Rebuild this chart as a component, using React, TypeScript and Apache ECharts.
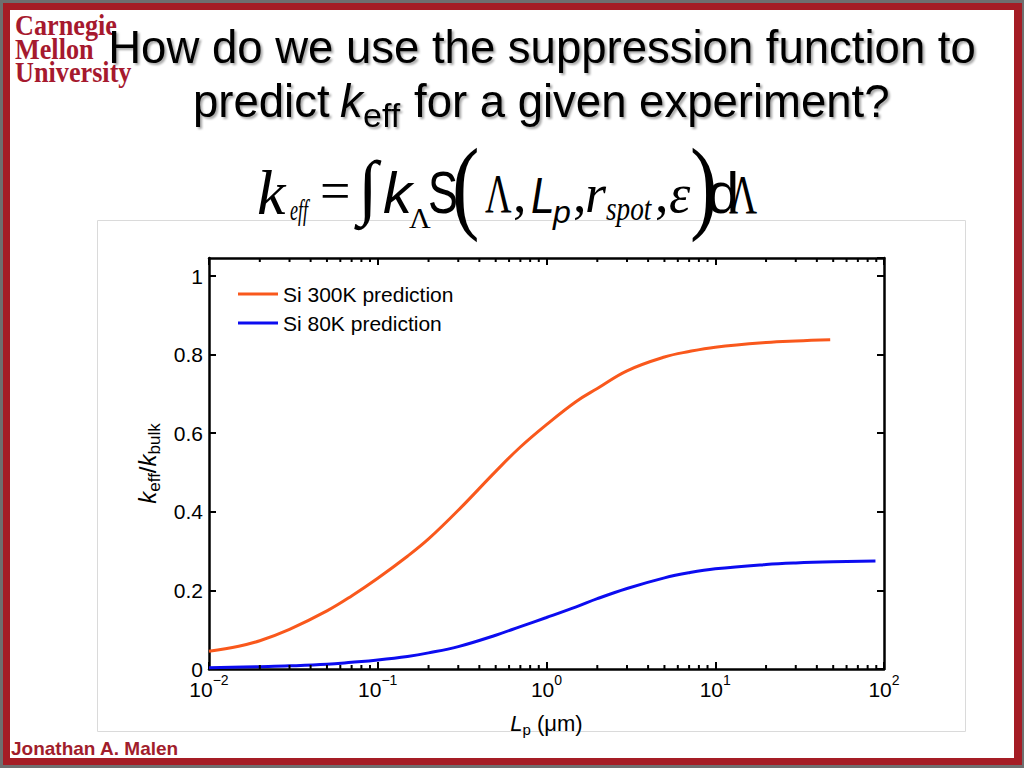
import React, { useEffect, useRef } from "react";
import * as echarts from "echarts";

// ---- data ----
const seriesNames = ["Si 300K prediction", "Si 80K prediction"];
const lp300 = [0.01, 0.015, 0.02, 0.03, 0.05, 0.07, 0.1, 0.15, 0.2, 0.3, 0.5, 0.7, 1, 1.5, 2, 3, 5, 7, 10, 20, 30, 48];
const k300 = [0.045, 0.058, 0.072, 0.101, 0.148, 0.186, 0.231, 0.287, 0.331, 0.404, 0.503, 0.565, 0.622, 0.681, 0.714, 0.759, 0.794, 0.808, 0.819, 0.831, 0.835, 0.838];
const lp80 = [0.01, 0.02, 0.03, 0.05, 0.07, 0.1, 0.15, 0.2, 0.3, 0.5, 0.7, 1, 1.5, 2, 3, 5, 7, 10, 20, 30, 50, 89];
const k80 = [0.003, 0.006, 0.008, 0.012, 0.017, 0.023, 0.032, 0.041, 0.057, 0.086, 0.108, 0.131, 0.158, 0.179, 0.205, 0.232, 0.245, 0.255, 0.266, 0.27, 0.273, 0.275];
const seriesColors = ["#f9581c", "#0c0cf0"];
const X_MIN = 0.01;
const X_MAX = 100;
const Y_MIN = 0;
const Y_MAX = 1.046;
const Y_INTERVAL = 0.2;
const minorDecades = [0.01, 0.1, 1, 10];
const minorMultipliers = [2, 3, 4, 5, 6, 7, 8, 9];

const SANS = '"Liberation Sans", Arial, Helvetica, sans-serif';
const SERIF = '"Liberation Serif", "Times New Roman", Times, serif';
const CMU_RED = "#a6192e";

type TOpts = { italic?: boolean; bold?: boolean; align?: string; scaleX?: number; fill?: string; shadow?: boolean; z?: number };

function txt(text: string, x: number, baseline: number, size: number, family: string, o: TOpts = {}) {
  const style: any = {
    text,
    fontSize: size,
    fontFamily: family,
    fontStyle: o.italic ? "italic" : "normal",
    fontWeight: o.bold ? "bold" : "normal",
    fill: o.fill || "#000",
    align: o.align || "left",
    verticalAlign: "middle",
  };
  if (o.shadow) {
    style.textShadowColor = "rgba(0,0,0,0.35)";
    style.textShadowBlur = 2;
    style.textShadowOffsetX = 2;
    style.textShadowOffsetY = 2;
  }
  return {
    type: "text",
    x,
    y: baseline - 0.345 * size,
    scaleX: o.scaleX || 1,
    z: o.z ?? 20,
    silent: true,
    style,
  };
}

function supLabel(v: number) {
  const e = Math.round(Math.log10(v));
  const s = e < 0 ? "\u2212" + Math.abs(e) : String(e);
  return `{b|10}{s|${s}}`;
}

export default function App() {
  const ref = useRef<HTMLDivElement>(null);

  useEffect(() => {
    if (!ref.current) return;
    const chart = echarts.init(ref.current, undefined, { renderer: "svg" });

    const minorTicks: number[][] = [];
    minorDecades.forEach((d) => minorMultipliers.forEach((m) => minorTicks.push([d * m, 0])));

    const graphics: any[] = [
      { type: "rect", z: -10, silent: true, shape: { x: 0, y: 0, width: 1024, height: 768 }, style: { fill: "#6f6f6f" } },
      { type: "rect", z: -9, silent: true, shape: { x: 3, y: 3, width: 1019, height: 762 }, style: { fill: "#a51d25" } },
      { type: "rect", z: -8, silent: true, shape: { x: 10, y: 10, width: 1004, height: 748 }, style: { fill: "#ffffff" } },
      { type: "rect", z: -7, silent: true, shape: { x: 97.5, y: 220.5, width: 868, height: 511 }, style: { fill: "none", stroke: "#dadada", lineWidth: 1 } },
      // logo
      txt("Carnegie", 15, 35, 28.5, SERIF, { bold: true, scaleX: 0.92, fill: CMU_RED, z: 5 }),
      txt("Mellon", 15, 59, 28.5, SERIF, { bold: true, scaleX: 0.92, fill: CMU_RED, z: 5 }),
      txt("University", 15, 82, 28.5, SERIF, { bold: true, scaleX: 0.92, fill: CMU_RED, z: 5 }),
      // title
      txt("How do we use the suppression function to", 542, 63, 45.5, SANS, { align: "center", shadow: true }),
      txt("predict", 193, 117, 45.5, SANS, { shadow: true }),
      txt("k", 340, 117, 45.5, SANS, { italic: true, shadow: true }),
      txt("eff", 363, 127, 34, SANS, { shadow: true }),
      txt("for a given experiment?", 414, 117, 45.5, SANS, { shadow: true }),
      // equation
      txt("k", 257, 215, 64, SERIF, { italic: true }),
      txt("eff", 290, 220.5, 30, SERIF, { italic: true, scaleX: 0.6 }),
      txt("=", 320, 210, 54, SERIF),
      txt("\u222B", 358, 212, 72, SERIF),
      txt("k", 383, 213, 58, SANS, { italic: true }),
      txt("\u039B", 409, 228, 30, SERIF),
      txt("S", 428, 213, 60, SANS, { scaleX: 0.75 }),
      txt("(", 452, 221, 103, SERIF, { scaleX: 0.8 }),
      txt("\u039B", 485, 213, 54, SERIF, { scaleX: 0.68 }),
      txt(",", 513, 213, 54, SERIF),
      txt("L", 531, 213, 50, SANS, { italic: true, scaleX: 0.85 }),
      txt("p", 553, 223, 32, SANS, { italic: true }),
      txt(",", 573, 213, 54, SERIF),
      txt("r", 585, 213, 54, SERIF, { italic: true }),
      txt("spot", 606, 220.6, 34, SERIF, { italic: true, scaleX: 0.8 }),
      txt(",", 655, 213, 54, SERIF),
      txt("\u03B5", 669, 213, 54, SERIF, { italic: true }),
      txt(")", 690, 221, 103, SERIF, { scaleX: 0.8 }),
      txt("d", 707, 213, 58, SANS),
      txt("\u039B", 729, 213, 54, SERIF, { scaleX: 0.72 }),
      // author
      txt("Jonathan A. Malen", 11, 755, 19, SANS, { bold: true, fill: "#a11d2b" }),
    ];

    const axisLine = { show: true, onZero: false, lineStyle: { color: "#000", width: 2.5 } };
    const axisTick = { show: true, inside: true, length: 7, lineStyle: { color: "#000", width: 2 } };

    const option: any = {
      animation: false,
      backgroundColor: "#fff",
      graphic: graphics,
      grid: { left: 209, right: 140, top: 258, bottom: 99, show: false },
      legend: {
        data: seriesNames,
        orient: "vertical",
        left: 233,
        top: 278,
        itemWidth: 40,
        itemHeight: 3,
        itemGap: 7,
        icon: "rect",
        selectedMode: false,
        textStyle: { fontSize: 21, fontFamily: SANS, color: "#000", lineHeight: 22 },
      },
      xAxis: [
        {
          type: "log",
          logBase: 10,
          min: X_MIN,
          max: X_MAX,
          position: "bottom",
          axisLine,
          axisTick,
          splitLine: { show: false },
          axisLabel: {
            margin: 9,
            formatter: (v: number) => supLabel(v),
            rich: {
              b: { fontSize: 21, fontFamily: SANS, color: "#000", lineHeight: 22 },
              s: { fontSize: 14, fontFamily: SANS, color: "#000", lineHeight: 14, padding: [0, 0, 18, 0] },
            },
          },
          name: "{i|L}{sub|p}{n| (\u03BCm)}",
          nameLocation: "middle",
          nameGap: 36,
          nameTextStyle: {
            rich: {
              i: { fontSize: 22, fontFamily: SANS, fontStyle: "italic", color: "#000", lineHeight: 24 },
              sub: { fontSize: 15, fontFamily: SANS, color: "#000", lineHeight: 15, padding: [12, 0, 0, 0] },
              n: { fontSize: 22, fontFamily: SANS, color: "#000", lineHeight: 24 },
            },
          },
        },
        {
          type: "log",
          logBase: 10,
          min: X_MIN,
          max: X_MAX,
          position: "top",
          axisLine,
          axisTick,
          axisLabel: { show: false },
          splitLine: { show: false },
        },
      ],
      yAxis: [
        {
          type: "value",
          min: Y_MIN,
          max: Y_MAX,
          interval: Y_INTERVAL,
          position: "left",
          axisLine,
          axisTick,
          splitLine: { show: false },
          axisLabel: {
            margin: 6,
            showMaxLabel: false,
            fontSize: 21,
            fontFamily: SANS,
            color: "#000",
            formatter: (v: number) => (Math.abs(v) < 1e-9 ? "0" : String(+v.toFixed(1))),
          },
          name: "{i|k}{sub|eff}{n|/}{i|k}{sub|bulk}",
          nameLocation: "middle",
          nameRotate: 90,
          nameGap: 47,
          nameTextStyle: {
            rich: {
              i: { fontSize: 24, fontFamily: SANS, fontStyle: "italic", color: "#000", lineHeight: 26 },
              sub: { fontSize: 17, fontFamily: SANS, color: "#000", lineHeight: 17, padding: [13, 0, 0, 0] },
              n: { fontSize: 24, fontFamily: SANS, color: "#000", lineHeight: 26 },
            },
          },
        },
        {
          type: "value",
          min: Y_MIN,
          max: Y_MAX,
          interval: Y_INTERVAL,
          position: "right",
          axisLine,
          axisTick,
          axisLabel: { show: false },
          splitLine: { show: false },
        },
      ],
      series: [
        {
          name: seriesNames[0],
          type: "line",
          xAxisIndex: 0,
          yAxisIndex: 0,
          symbol: "none",
          smooth: 0.4,
          color: seriesColors[0],
          lineStyle: { width: 3, color: seriesColors[0] },
          data: lp300.map((x, i) => [x, k300[i]]),
          z: 3,
        },
        {
          name: seriesNames[1],
          type: "line",
          xAxisIndex: 0,
          yAxisIndex: 0,
          symbol: "none",
          smooth: 0.4,
          color: seriesColors[1],
          lineStyle: { width: 3, color: seriesColors[1] },
          data: lp80.map((x, i) => [x, k80[i]]),
          z: 3,
        },
        {
          type: "custom",
          xAxisIndex: 0,
          yAxisIndex: 0,
          silent: true,
          z: 4,
          data: minorTicks,
          renderItem: (params: any, api: any) => {
            const v = api.value(0);
            const b = api.coord([v, Y_MIN]);
            const t = api.coord([v, Y_MAX]);
            return {
              type: "group",
              children: [
                { type: "line", shape: { x1: b[0], y1: b[1], x2: b[0], y2: b[1] - 4 }, style: { stroke: "#000", lineWidth: 2 } },
                { type: "line", shape: { x1: t[0], y1: t[1], x2: t[0], y2: t[1] + 4 }, style: { stroke: "#000", lineWidth: 2 } },
              ],
            };
          },
        },
      ],
    };

    chart.setOption(option);
    return () => chart.dispose();
  }, []);

  return <div ref={ref} style={{ position: "absolute", left: 0, top: 0, width: 1024, height: 768 }} />;
}
